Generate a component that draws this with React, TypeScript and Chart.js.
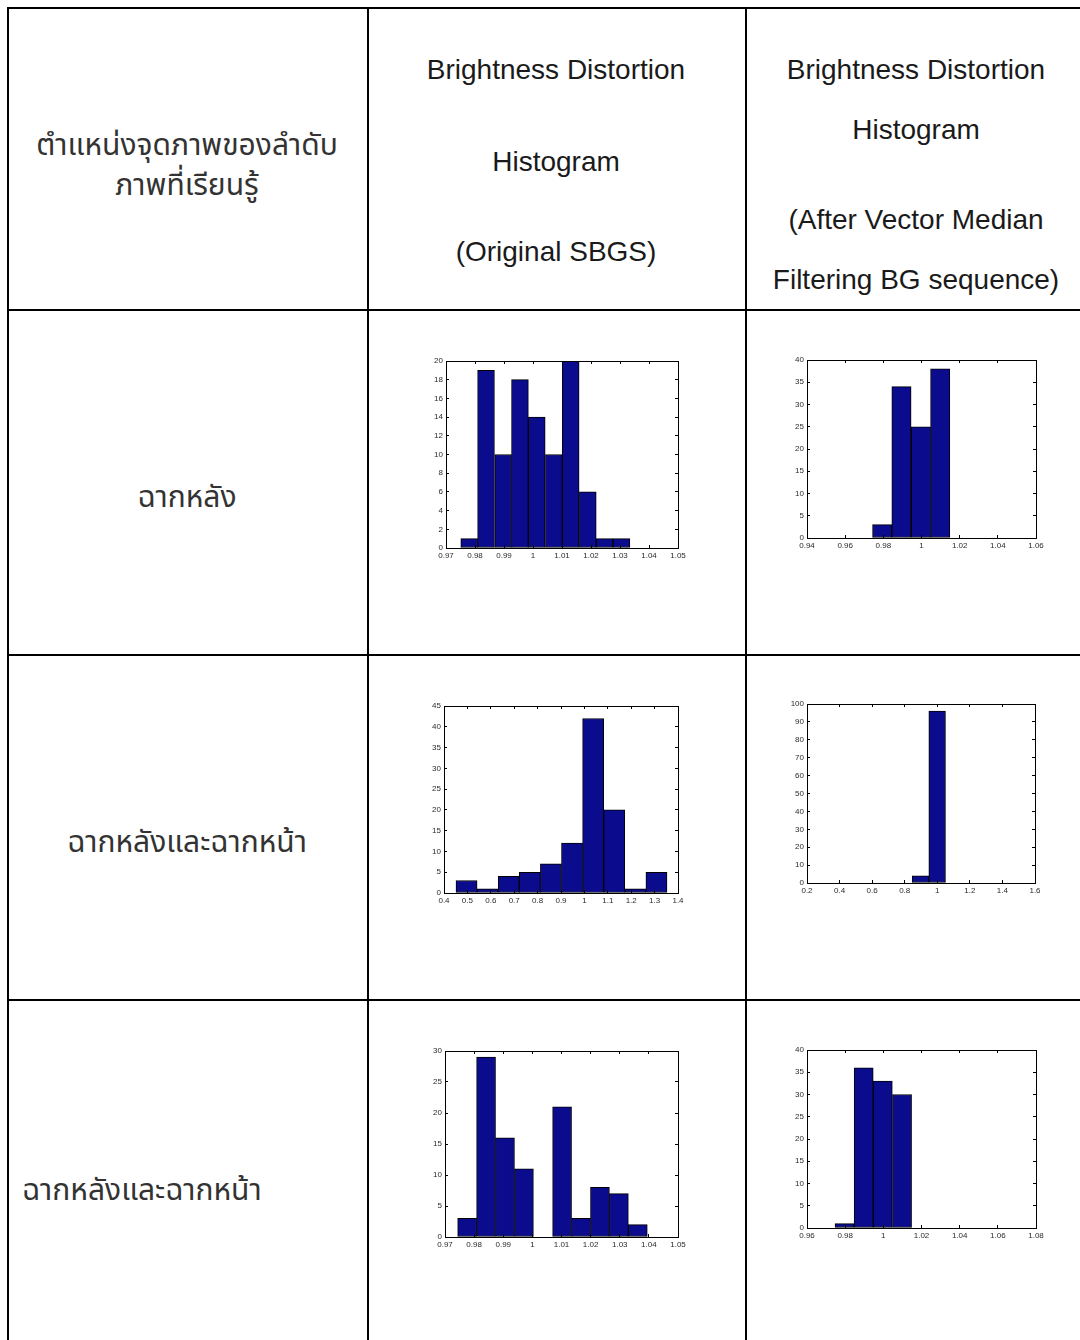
import React, { useEffect, useRef } from "react";
import { Chart, registerables } from "chart.js";

Chart.register(...registerables);

// ---------------- DATA ----------------
// Row 1: background (ฉากหลัง)
const r1OrigCenters = [0.978, 0.9838, 0.9897, 0.9955, 1.0013, 1.0072, 1.013, 1.0189, 1.0247, 1.0305];
const r1OrigCounts = [1, 19, 10, 18, 14, 10, 20, 6, 1, 1];
const r1OrigXTicks = [0.97, 0.98, 0.99, 1, 1.01, 1.02, 1.03, 1.04, 1.05];
const r1OrigYTicks = [0, 2, 4, 6, 8, 10, 12, 14, 16, 18, 20];

const r1VmfCenters = [0.9794, 0.9895, 0.9997, 1.0098];
const r1VmfCounts = [3, 34, 25, 38];
const r1VmfXTicks = [0.94, 0.96, 0.98, 1, 1.02, 1.04, 1.06];
const r1VmfYTicks = [0, 5, 10, 15, 20, 25, 30, 35, 40];

// Row 2: background and foreground (ฉากหลังและฉากหน้า)
const r2OrigCenters = [0.4963, 0.5865, 0.6767, 0.7668, 0.857, 0.9472, 1.0374, 1.1276, 1.2177, 1.3079];
const r2OrigCounts = [3, 1, 4, 5, 7, 12, 42, 20, 1, 5];
const r2OrigXTicks = [0.4, 0.5, 0.6, 0.7, 0.8, 0.9, 1, 1.1, 1.2, 1.3, 1.4];
const r2OrigYTicks = [0, 5, 10, 15, 20, 25, 30, 35, 40, 45];

const r2VmfCenters = [0.897, 0.9992];
const r2VmfCounts = [4, 96];
const r2VmfXTicks = [0.2, 0.4, 0.6, 0.8, 1, 1.2, 1.4, 1.6];
const r2VmfYTicks = [0, 10, 20, 30, 40, 50, 60, 70, 80, 90, 100];

// Row 3: background and foreground (ฉากหลังและฉากหน้า)
const r3OrigCenters = [0.9776, 0.9841, 0.9906, 0.9971, 1.0037, 1.0102, 1.0167, 1.0232, 1.0297, 1.0362];
const r3OrigCounts = [3, 29, 16, 11, 0, 21, 3, 8, 7, 2];
const r3OrigXTicks = [0.97, 0.98, 0.99, 1, 1.01, 1.02, 1.03, 1.04, 1.05];
const r3OrigYTicks = [0, 5, 10, 15, 20, 25, 30];

const r3VmfCenters = [0.9797, 0.9897, 0.9997, 1.0098];
const r3VmfCounts = [1, 36, 33, 30];
const r3VmfXTicks = [0.96, 0.98, 1, 1.02, 1.04, 1.06, 1.08];
const r3VmfYTicks = [0, 5, 10, 15, 20, 25, 30, 35, 40];

// Text
const headerCol1 = ["ตำแหน่งจุดภาพของลำดับ", "ภาพที่เรียนรู้"];
const headerCol2 = ["Brightness Distortion", "Histogram", "(Original SBGS)"];
const headerCol3 = ["Brightness Distortion", "Histogram", "(After Vector Median", "Filtering BG sequence)"];
const rowLabels = ["ฉากหลัง", "ฉากหลังและฉากหน้า", "ฉากหลังและฉากหน้า"];

// ---------------- LAYOUT ----------------
type Rect = { l: number; t: number; r: number; b: number };

const charts: { rect: Rect; centers: number[]; counts: number[]; xTicks: number[]; yTicks: number[] }[] = [
  { rect: { l: 446, t: 361, r: 678, b: 548 }, centers: r1OrigCenters, counts: r1OrigCounts, xTicks: r1OrigXTicks, yTicks: r1OrigYTicks },
  { rect: { l: 807, t: 360, r: 1036, b: 538 }, centers: r1VmfCenters, counts: r1VmfCounts, xTicks: r1VmfXTicks, yTicks: r1VmfYTicks },
  { rect: { l: 444, t: 706, r: 678, b: 893 }, centers: r2OrigCenters, counts: r2OrigCounts, xTicks: r2OrigXTicks, yTicks: r2OrigYTicks },
  { rect: { l: 807, t: 704, r: 1035, b: 883 }, centers: r2VmfCenters, counts: r2VmfCounts, xTicks: r2VmfXTicks, yTicks: r2VmfYTicks },
  { rect: { l: 445, t: 1051, r: 678, b: 1237 }, centers: r3OrigCenters, counts: r3OrigCounts, xTicks: r3OrigXTicks, yTicks: r3OrigYTicks },
  { rect: { l: 807, t: 1050, r: 1036, b: 1228 }, centers: r3VmfCenters, counts: r3VmfCounts, xTicks: r3VmfXTicks, yTicks: r3VmfYTicks },
];

const M = { l: 28, t: 8, r: 16, b: 18 };
const BAR_FILL = "#0b0b8d";
const TICK_FONT = { family: "'Liberation Sans', Arial, sans-serif", size: 8 };
const TICK_COLOR = "#2a2a2a";
const TEXT_FONT = "'Liberation Sans', Arial, 'Noto Sans Thai', 'Noto Sans', sans-serif";

const fmt = (v: number | string) => String(Math.round(Number(v) * 10000) / 10000);

function Histogram({ spec }: { spec: (typeof charts)[number] }) {
  const ref = useRef<HTMLCanvasElement>(null);
  const { rect } = spec;
  const w = rect.r - rect.l + M.l + M.r;
  const h = rect.b - rect.t + M.t + M.b;

  useEffect(() => {
    if (!ref.current) return;
    const xt = spec.xTicks;
    const yt = spec.yTicks;
    const xMin = xt[0], xMax = xt[xt.length - 1];
    const yMin = yt[0], yMax = yt[yt.length - 1];
    const zeroPad = (s: any) => {
      s.paddingLeft = 0;
      s.paddingRight = 0;
      s.paddingTop = 0;
      s.paddingBottom = 0;
    };
    const gridOpts = { drawOnChartArea: false, drawTicks: true, tickLength: -3, color: "#000", lineWidth: 1, z: 1, offset: false };
    const borderOpts = { display: true, color: "#000", width: 1, z: 1 };
    const chart = new Chart(ref.current, {
      type: "bar",
      data: {
        datasets: [
          {
            data: spec.centers.map((c, i) => ({ x: c, y: spec.counts[i] })),
            backgroundColor: BAR_FILL,
            borderColor: "#000",
            borderWidth: 1,
            borderSkipped: false,
            barPercentage: 1,
            categoryPercentage: 1,
            xAxisID: "x",
            yAxisID: "y",
          } as any,
        ],
      },
      options: {
        animation: false,
        responsive: false,
        devicePixelRatio: 1,
        layout: { padding: { left: 0, top: M.t, right: M.r, bottom: 0 } },
        plugins: { legend: { display: false }, tooltip: { enabled: false } },
        scales: {
          x: {
            type: "linear",
            position: "bottom",
            offset: false,
            min: xMin,
            max: xMax,
            afterBuildTicks: (s: any) => {
              s.ticks = xt.map((v) => ({ value: v }));
            },
            afterFit: (s: any) => {
              s.height = M.b;
              zeroPad(s);
            },
            ticks: { callback: fmt, font: TICK_FONT, color: TICK_COLOR, padding: 6, maxRotation: 0, autoSkip: false },
            grid: gridOpts,
            border: borderOpts,
          },
          x2: {
            type: "linear",
            position: "top",
            offset: false,
            min: xMin,
            max: xMax,
            afterBuildTicks: (s: any) => {
              s.ticks = xt.map((v) => ({ value: v }));
            },
            afterFit: (s: any) => {
              s.height = 0;
              zeroPad(s);
            },
            ticks: { display: false, autoSkip: false },
            grid: gridOpts,
            border: borderOpts,
          },
          y: {
            type: "linear",
            position: "left",
            offset: false,
            min: yMin,
            max: yMax,
            afterBuildTicks: (s: any) => {
              s.ticks = yt.map((v) => ({ value: v }));
            },
            afterFit: (s: any) => {
              s.width = M.l;
              zeroPad(s);
            },
            ticks: { callback: fmt, font: TICK_FONT, color: TICK_COLOR, padding: 6, autoSkip: false },
            grid: gridOpts,
            border: borderOpts,
          },
          y2: {
            type: "linear",
            position: "right",
            offset: false,
            min: yMin,
            max: yMax,
            afterBuildTicks: (s: any) => {
              s.ticks = yt.map((v) => ({ value: v }));
            },
            afterFit: (s: any) => {
              s.width = 0;
              zeroPad(s);
            },
            ticks: { display: false, autoSkip: false },
            grid: gridOpts,
            border: borderOpts,
          },
        },
      } as any,
    });
    return () => chart.destroy();
  }, [spec]);

  return (
    <canvas
      ref={ref}
      width={w}
      height={h}
      style={{ position: "absolute", left: rect.l - M.l, top: rect.t - M.t, width: w, height: h }}
    />
  );
}

function Line({ x, y, w, h }: { x: number; y: number; w: number; h: number }) {
  return <div style={{ position: "absolute", left: x, top: y, width: w, height: h, background: "#000" }} />;
}

function TextLine({ text, cx, cy, size, left, color }: { text: string; cx?: number; cy: number; size: number; left?: number; color?: string }) {
  const lh = 40;
  const style: React.CSSProperties = {
    position: "absolute",
    top: cy - lh / 2,
    height: lh,
    lineHeight: lh + "px",
    fontSize: size,
    fontFamily: TEXT_FONT,
    color: color || "#1a1a1a",
    whiteSpace: "nowrap",
  };
  if (left !== undefined) {
    style.left = left;
  } else {
    style.left = (cx as number) - 300;
    style.width = 600;
    style.textAlign = "center";
  }
  return <div style={style}>{text}</div>;
}

export default function App() {
  const EN = 28;
  const TH = 30;
  const TH_COLOR = "#333";
  return (
    <div
      style={{
        position: "absolute",
        left: 0,
        top: 0,
        width: 1080,
        height: 1340,
        overflow: "hidden",
        background: "#fff",
      }}
    >
      {/* table grid */}
      <Line x={7} y={7} w={1073} h={2} />
      <Line x={7} y={309} w={1073} h={2} />
      <Line x={7} y={654} w={1073} h={2} />
      <Line x={7} y={999} w={1073} h={2} />
      <Line x={7} y={7} w={2} h={1333} />
      <Line x={367} y={7} w={2} h={1333} />
      <Line x={745} y={7} w={2} h={1333} />

      {/* header */}
      <TextLine text={headerCol1[0]} cx={187} cy={145} size={TH} color={TH_COLOR} />
      <TextLine text={headerCol1[1]} cx={187} cy={185} size={TH} color={TH_COLOR} />
      <TextLine text={headerCol2[0]} cx={556} cy={70} size={EN} />
      <TextLine text={headerCol2[1]} cx={556} cy={162} size={EN} />
      <TextLine text={headerCol2[2]} cx={556} cy={252} size={EN} />
      <TextLine text={headerCol3[0]} cx={916} cy={70} size={EN} />
      <TextLine text={headerCol3[1]} cx={916} cy={130} size={EN} />
      <TextLine text={headerCol3[2]} cx={916} cy={220} size={EN} />
      <TextLine text={headerCol3[3]} cx={916} cy={280} size={EN} />

      {/* row labels */}
      <TextLine text={rowLabels[0]} cx={187} cy={497} size={TH} color={TH_COLOR} />
      <TextLine text={rowLabels[1]} cx={187} cy={842} size={TH} color={TH_COLOR} />
      <TextLine text={rowLabels[2]} left={22} cy={1190} size={TH} color={TH_COLOR} />

      {charts.map((c, i) => (
        <Histogram key={i} spec={c} />
      ))}
    </div>
  );
}
